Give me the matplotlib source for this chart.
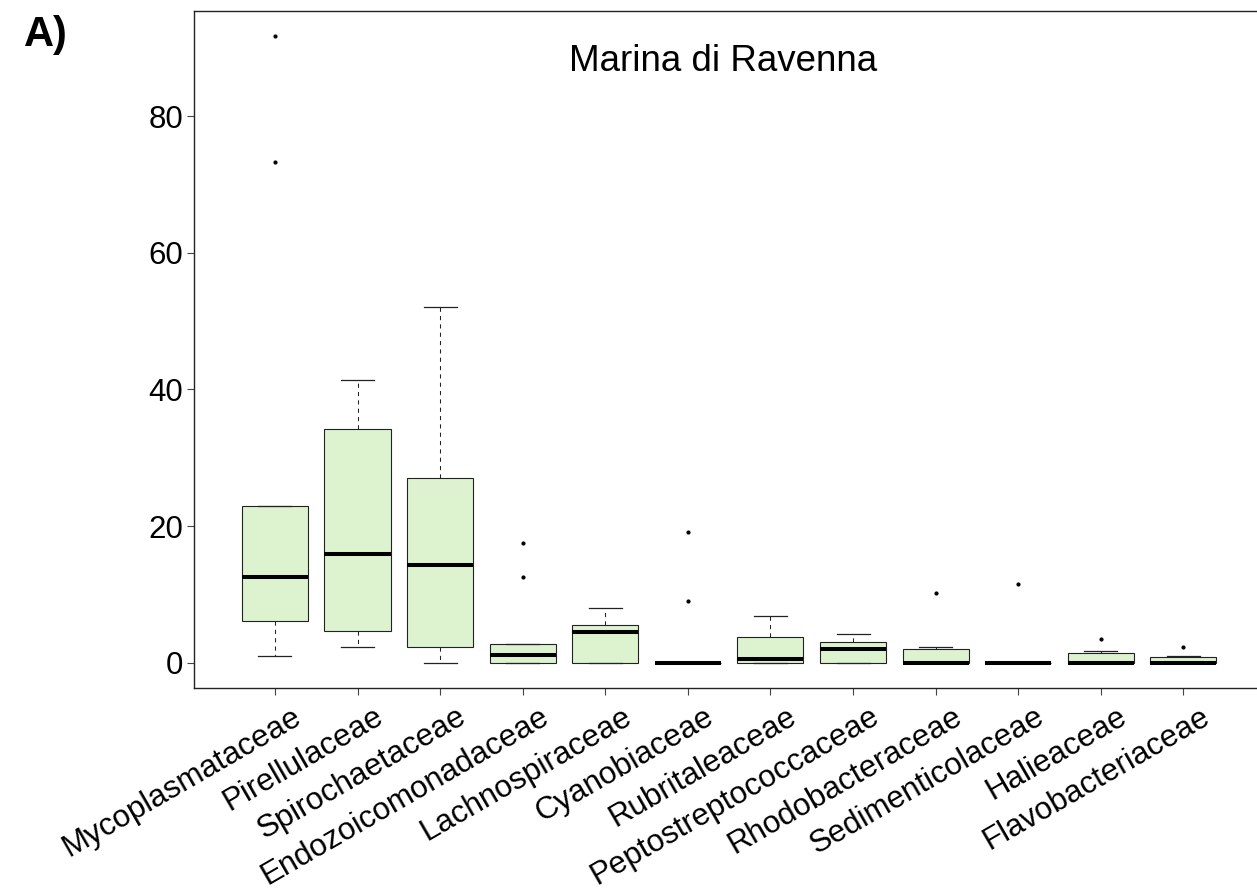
import matplotlib
matplotlib.use("Agg")
import matplotlib.pyplot as plt
import matplotlib.transforms as mtransforms

# families shown on the x axis
families = ["Mycoplasmataceae", "Pirellulaceae", "Spirochaetaceae", "Endozoicomonadaceae",
            "Lachnospiraceae", "Cyanobiaceae", "Rubritaleaceae", "Peptostreptococcaceae",
            "Rhodobacteraceae", "Sedimenticolaceae", "Halieaceae", "Flavobacteriaceae"]

# box statistics
whislo = [1.0, 2.4, 0.0, 0.0, 0.0, 0.0, 0.0, 0.0, 0.0, 0.0, 0.0, 0.0]
q1 = [6.2, 4.6, 2.4, 0.0, 0.0, 0.0, 0.0, 0.0, 0.0, 0.0, 0.0, 0.0]
med = [12.5, 15.9, 14.3, 1.2, 4.5, 0.0, 0.6, 2.1, 0.0, 0.0, 0.0, 0.0]
q3 = [23.0, 34.2, 27.1, 2.8, 5.6, 0.0, 3.8, 3.0, 2.1, 0.0, 1.4, 0.9]
whishi = [23.0, 41.4, 52.0, 2.8, 8.1, 0.0, 6.8, 4.2, 2.4, 0.0, 1.8, 1.0]
outliers = [[91.7, 73.3], [], [], [17.6, 12.6], [], [19.1, 9.0], [], [],
            [10.3], [11.6], [3.5], [2.3]]

yticks = [0, 20, 40, 60, 80]
title = "Marina di Ravenna"
panel = "A)"

plt.rcParams['font.family'] = ['Liberation Sans', 'DejaVu Sans']

fig = plt.figure(figsize=(12.57, 8.93), dpi=100)
W, H = 1257, 893
ax = fig.add_axes([194 / W, 1 - 688 / H, (1264.3 - 194) / W, 677 / H])

stats = []
for i, name in enumerate(families):
    stats.append({"label": name, "whislo": whislo[i], "q1": q1[i], "med": med[i],
                  "q3": q3[i], "whishi": whishi[i], "fliers": outliers[i]})

positions = list(range(1, len(families) + 1))
ax.bxp(stats, positions=positions, widths=0.8, patch_artist=True, showfliers=True,
       boxprops=dict(facecolor="#ddf3d0", edgecolor="#222222", linewidth=0.8),
       medianprops=dict(color="black", linewidth=2.9, solid_capstyle="butt"),
       whiskerprops=dict(color="#222222", linewidth=0.75, linestyle=(0, (4, 4))),
       capprops=dict(color="#222222", linewidth=0.9),
       flierprops=dict(marker="o", markersize=2.0, markerfacecolor="black",
                       markeredgecolor="black", linestyle="none"))

n = len(families)
ax.set_xlim(0.5 - 0.04 * n, n + 0.5 + 0.04 * n)
top = max(max(o) for o in outliers if o)
ax.set_ylim(-0.04 * top, top * 1.04)

ax.set_yticks(yticks)
ax.set_yticklabels([str(t) for t in yticks])
ax.set_xticks(positions)
ax.set_xticklabels(families, rotation=30, ha="right", va="baseline",
                   rotation_mode="anchor")

ax.tick_params(axis="both", labelsize=22.5, length=5, width=0.8, color="#444444")
ax.tick_params(axis="y", pad=3)
ax.tick_params(axis="x", pad=19)

offset = mtransforms.ScaledTranslation(28 / 100, 0, fig.dpi_scale_trans)
for lab in ax.get_xticklabels():
    lab.set_transform(lab.get_transform() + offset)

for side in ["top", "left", "bottom", "right"]:
    ax.spines[side].set_linewidth(1.0)
    ax.spines[side].set_color("#222222")

ax.text(0.4947, 0.912, title, transform=ax.transAxes, ha="center", va="baseline",
        fontsize=26.5)
fig.text(24 / W, 1 - 46 / H, panel, fontsize=30, fontweight="bold", ha="left",
         va="baseline")

fig.savefig("out.png", dpi=100)
